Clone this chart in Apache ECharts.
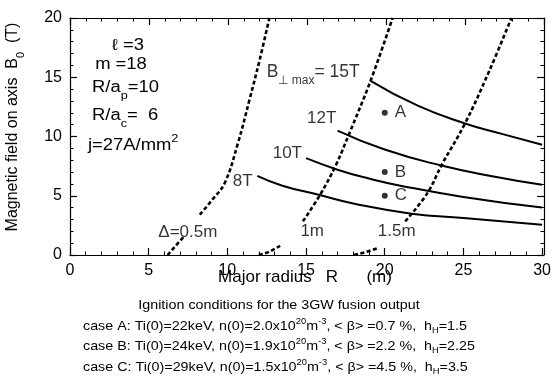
<!DOCTYPE html>
<html><head><meta charset="utf-8">
<script src="https://cdn.jsdelivr.net/npm/echarts@6/dist/echarts.min.js"></script>
<style>html,body{margin:0;padding:0;background:#fff}#c{width:554px;height:391px}</style>
</head><body><div id="c"></div>
<script>
// Axis ticks
const xTickLabels = [0, 5, 10, 15, 20, 25, 30];
const yTickLabels = [0, 5, 10, 15, 20];

// B_perp,max = const curves: major radius R (m) and B0 (T)
const b8R  = [11.9, 13.5, 15.8, 18, 21.7, 25, 30];
const b8B  = [6.68, 5.85, 5.08, 4.35, 3.49, 3.12, 2.56];
const b10R = [15.0, 17, 19, 21, 25, 30];
const b10B = [8.17, 7.2, 6.45, 5.85, 4.9, 4.0];
const b12R = [17.0, 20, 23.6, 27, 30];
const b12B = [10.5, 8.9, 7.55, 6.6, 5.92];
const b15R = [19.1, 22.1, 25.1, 27.5, 30];
const b15B = [14.7, 12.6, 11.1, 10.2, 9.3];

// Delta = const curves (dashed), split where the labels sit
const d05aR = [6.2, 6.6, 7.2];
const d05aB = [0, 0.6, 1.5];
const d05bR = [8.25, 9.0, 9.83, 10.67, 11.4, 12.04, 12.67];
const d05bB = [3.4, 4.6, 6.07, 9.43, 13.07, 16.4, 20];
const d10aR = [12.0, 12.7, 13.35];
const d10aB = [0, 0.3, 0.78];
const d10bR = [14.8, 15.9, 16.9, 17.7, 19.1, 20.5];
const d10bB = [2.84, 5.1, 7.6, 10.1, 14.7, 20];
const d15aR = [18.05, 18.8, 19.6];
const d15aB = [0, 0.25, 0.6];
const d15bR = [21.3, 22.7, 23.6, 25.1, 26.6, 28.05];
const d15bB = [2.84, 5.2, 7.55, 11.1, 15.4, 20];

// Design points
const caseNames = ['A', 'B', 'C'];
const caseR = [20, 20, 20];
const caseB = [12, 7, 5];

// Curve labels (data positions)
const curveLabels = ['8T', '10T', '12T', 'Δ=0.5m', '1m', '1.5m'];
const curveLabelR = [10.98, 13.81, 15.99, 7.49, 15.39, 20.76];
const curveLabelB = [6.26, 8.61, 11.55, 1.89, 1.97, 1.97];
const bmaxLabelR = [12.5];
const bmaxLabelB = [15.4];

const FONT = 'Liberation Sans, Arial, Helvetica, sans-serif';
const zip = (a, b) => a.map((v, i) => [v, b[i]]);

function solid(R, B) {
  return { type: 'line', data: zip(R, B), smooth: 0.5, showSymbol: false, silent: true,
    lineStyle: { color: '#000', width: 2 }, z: 3 };
}
function dashed(R, B) {
  return { type: 'line', data: zip(R, B), smooth: 0.4, showSymbol: false, silent: true,
    lineStyle: { color: '#000', width: 2.6, type: [4, 2.5] }, z: 3 };
}
function makeAxis(gridIndex, min, max, position, showLabel) {
  return {
    type: 'value', gridIndex: gridIndex, min: min, max: max, interval: 5, position: position,
    axisLine: { show: true, onZero: false, lineStyle: { color: '#000', width: 1.2 } },
    axisTick: { show: true, inside: true, length: 7, lineStyle: { color: '#000', width: 1.2 } },
    minorTick: { show: true, splitNumber: 5, length: 3.5, lineStyle: { color: '#000', width: 1 } },
    splitLine: { show: false },
    axisLabel: { show: showLabel, color: '#000', fontSize: 16, fontFamily: FONT }
  };
}

const chart = echarts.init(document.getElementById('c'));
const capRich = {
  t: { fontSize: 13, fontFamily: FONT, lineHeight: 18 },
  u: { fontSize: 8.5, fontFamily: FONT, verticalAlign: 'top', lineHeight: 18 },
  d: { fontSize: 8.5, fontFamily: FONT, verticalAlign: 'bottom', lineHeight: 18 }
};
function capLine(y, text) {
  return { type: 'text', x: 83, y: y, scaleX: 1.1,
    style: { text: text, fill: '#000', align: 'left', verticalAlign: 'middle', rich: capRich } };
}
const boxRich = {
  t: { fontSize: 16, fontFamily: FONT, lineHeight: 26 },
  s: { fontSize: 11, fontFamily: FONT, verticalAlign: 'bottom', lineHeight: 26 },
  p: { fontSize: 11, fontFamily: FONT, verticalAlign: 'top', lineHeight: 22 }
};
function boxText(x, y, align, text) {
  return { type: 'text', x: x, y: y, scaleX: 1.15,
    style: { text: text, fill: '#000', align: align, verticalAlign: 'middle', rich: boxRich } };
}

chart.setOption({
  animation: false,
  grid: [
    { left: 70, right: 10, top: 18, bottom: 136 },
    { left: 70, right: 10, top: 18, bottom: 136 }
  ],
  xAxis: [ makeAxis(0, 0, 30, 'bottom', true), makeAxis(1, 0, 30, 'top', false) ],
  yAxis: [ makeAxis(0, 0, 20, 'left', true), makeAxis(1, 0, 20, 'right', false) ],
  series: [
    solid(b8R, b8B), solid(b10R, b10B), solid(b12R, b12B), solid(b15R, b15B),
    dashed(d05aR, d05aB), dashed(d05bR, d05bB),
    dashed(d10aR, d10aB), dashed(d10bR, d10bB),
    dashed(d15aR, d15aB), dashed(d15bR, d15bB),
    { type: 'scatter', data: zip(caseR, caseB).map((p, i) => ({ value: p, name: caseNames[i] })),
      symbol: 'circle', symbolSize: 6, itemStyle: { color: '#000' }, z: 5, silent: true,
      label: { show: true, position: 'right', distance: 7, formatter: p => p.name,
        color: '#000', fontSize: 17, fontFamily: FONT } },
    { type: 'scatter', data: curveLabelR.map((r, i) => ({ value: [r, curveLabelB[i]], name: curveLabels[i] })),
      symbolSize: 0, z: 6, silent: true,
      label: { show: true, position: 'inside', formatter: p => p.name, color: '#000',
        fontSize: 17, fontFamily: FONT } },
    { type: 'scatter', data: zip(bmaxLabelR, bmaxLabelB), symbolSize: 0, z: 6, silent: true,
      label: { show: true, position: 'inside', align: 'left', formatter: '{t|B}{s|⊥ max}{t|= 15T}', color: '#000',
        rich: { t: { fontSize: 17.5, fontFamily: FONT, color: '#000', lineHeight: 28 },
                s: { fontSize: 12, fontFamily: FONT, color: '#000', verticalAlign: 'bottom', lineHeight: 28 } } } },
    { type: 'scatter', xAxisIndex: 1, yAxisIndex: 1, data: zip(caseR, caseB), symbolSize: 0, silent: true }
  ],
  graphic: [
    boxText(128, 46, 'center', '{t|ℓ =3}'),
    boxText(121, 65, 'center', '{t|m =18}'),
    boxText(92, 88, 'left', '{t|R/a}{s|p}{t|=10}'),
    boxText(92, 116, 'left', '{t|R/a}{s|c}{t|=  6}'),
    boxText(88, 146, 'left', '{t|j=27A/mm}{p|2}'),
    // axis titles
    { type: 'text', x: 13, y: 127, rotation: Math.PI / 2,
      style: { text: '{t|Magnetic field on axis  B}{s|0}{t|  (T)}', fill: '#000', align: 'center', verticalAlign: 'middle',
        rich: { t: { fontSize: 16, fontFamily: FONT, lineHeight: 26 }, s: { fontSize: 11, fontFamily: FONT, verticalAlign: 'bottom', lineHeight: 26 } } } },
    { type: 'text', x: 305, y: 277, style: { text: 'Major radius   R      (m)', font: '17px ' + FONT, fill: '#000', align: 'center', verticalAlign: 'middle' } },
    // caption
    { type: 'text', x: 279, y: 305, scaleX: 1.1, style: { text: 'Ignition conditions for the 3GW fusion output', font: '13px ' + FONT, fill: '#000', align: 'center', verticalAlign: 'middle' } },
    capLine(326, '{t|case A: Ti(0)=22keV, n(0)=2.0x10}{u|20}{t|m}{u|-3}{t|, < β> =0.7 %,  h}{d|H}{t|=1.5}'),
    capLine(346, '{t|case B: Ti(0)=24keV, n(0)=1.9x10}{u|20}{t|m}{u|-3}{t|, < β> =2.2 %,  h}{d|H}{t|=2.25}'),
    capLine(367, '{t|case C: Ti(0)=29keV, n(0)=1.5x10}{u|20}{t|m}{u|-3}{t|, < β> =4.5 %,  h}{d|H}{t|=3.5}')
  ]
});
</script>
</body></html>
